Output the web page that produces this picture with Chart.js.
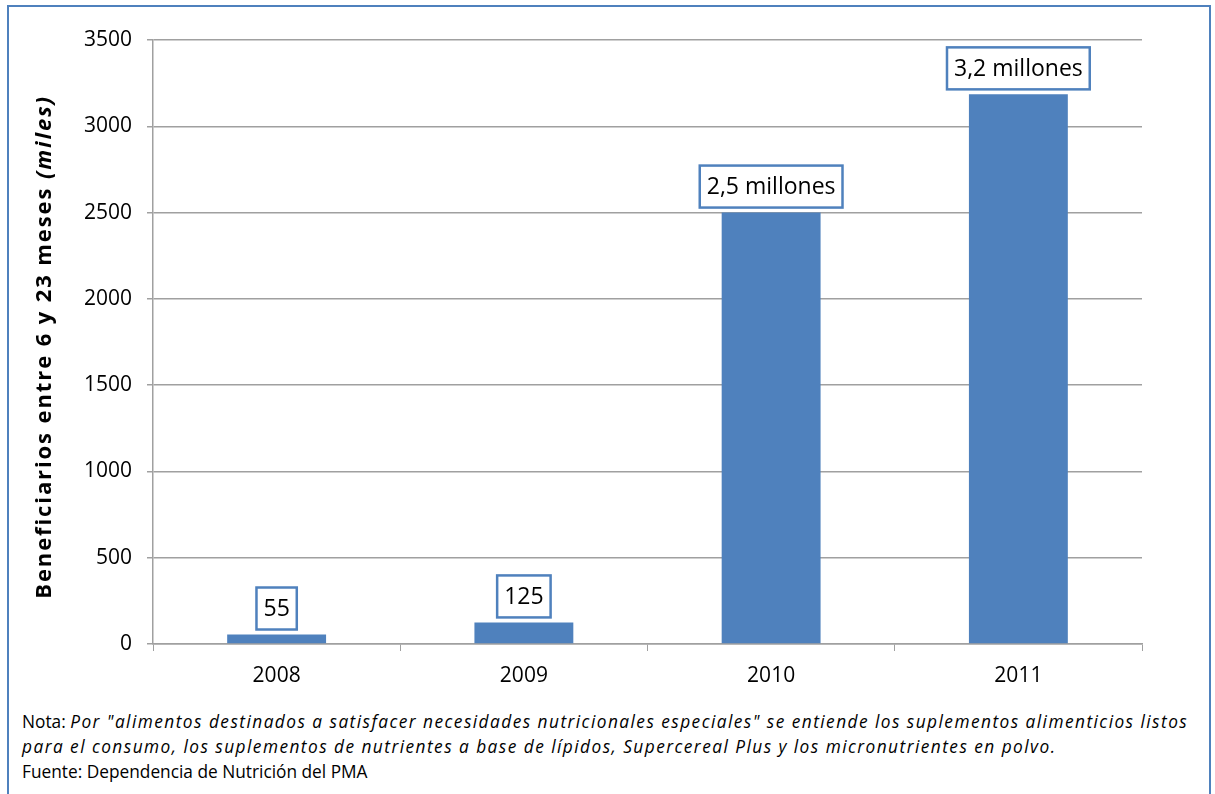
<!DOCTYPE html>
<html lang="es">
<head>
    <meta charset="UTF-8">
    <title>Beneficiarios entre 6 y 23 meses</title>
    <style>
        body {
            margin: 0;
            padding: 0;
            background: #fff;
            font-family: 'Open Sans', sans-serif;
            width: 1215px;
            height: 794px;
            overflow: hidden;
            position: relative;
        }

        #marco {
            position: absolute;
            left: 7px;
            top: 5px;
            width: 1204px;
            height: 800px;
            border: 2px solid #4f81bd;
            box-sizing: border-box;
        }

        #grafico {
            position: absolute;
            left: 0;
            top: 0;
        }

        #notas {
            position: absolute;
            left: 22px;
            top: 709px;
            font-size: 17.3px;
            line-height: 25px;
            color: #000;
            white-space: nowrap;
        }

        #notas i {
            letter-spacing: 1.45px;
        }
    </style>
</head>
<body>
    <div id="marco"></div>
    <canvas id="grafico" width="1215" height="700"></canvas>
    <div id="notas">
        Nota: <i>Por "alimentos destinados a satisfacer necesidades nutricionales especiales" se entiende los suplementos alimenticios listos</i><br>
        <i>para el consumo, los suplementos de nutrientes a base de lípidos, Supercereal Plus y los micronutrientes en polvo.</i><br>
        Fuente: Dependencia de Nutrición del PMA
    </div>

    <script src="https://cdn.jsdelivr.net/npm/chart.js"></script>
    <script>
        var anios = ['2008', '2009', '2010', '2011'];
        var beneficiarios = [55, 125, 2500, 3185];
        var etiquetas = ['55', '125', '2,5 millones', '3,2 millones'];

        var tituloEje = 'Beneficiarios entre 6 y 23 meses ';
        var tituloEjeCursiva = '(miles)';

        var azul = '#4f81bd';
        var gris = '#a0a0a0';

        // recuadros de las etiquetas encima de cada barra
        var pluginEtiquetas = {
            id: 'etiquetas',
            afterDatasetsDraw: function(chart) {
                var ctx = chart.ctx;
                var barras = chart.getDatasetMeta(0).data;
                ctx.save();
                ctx.font = '23px "Open Sans"';
                ctx.textAlign = 'center';
                ctx.textBaseline = 'middle';
                barras.forEach(function(barra, i) {
                    var texto = etiquetas[i];
                    var ancho = ctx.measureText(texto).width + 14;
                    var alto = 42;
                    var abajo = barra.y - 5;
                    ctx.fillStyle = '#fff';
                    ctx.fillRect(barra.x - ancho / 2, abajo - alto, ancho, alto);
                    ctx.strokeStyle = azul;
                    ctx.lineWidth = 2.5;
                    ctx.strokeRect(barra.x - ancho / 2, abajo - alto, ancho, alto);
                    ctx.fillStyle = '#000';
                    ctx.fillText(texto, barra.x, abajo - alto / 2 + 1);
                });
                ctx.restore();
            }
        };

        // titulo del eje Y con la parte "(miles)" en cursiva
        var pluginTitulo = {
            id: 'tituloEje',
            afterDraw: function(chart) {
                var ctx = chart.ctx;
                var area = chart.chartArea;
                ctx.save();
                ctx.translate(45, (area.top + area.bottom) / 2 + 5);
                ctx.rotate(-Math.PI / 2);
                ctx.fillStyle = '#000';
                ctx.textBaseline = 'middle';
                ctx.letterSpacing = '1.9px';
                var f1 = 'bold 22px "Open Sans"';
                var f2 = 'italic bold 22px "Open Sans"';
                ctx.font = f1;
                var w1 = ctx.measureText(tituloEje).width;
                ctx.font = f2;
                var w2 = ctx.measureText(tituloEjeCursiva).width;
                var x0 = -(w1 + w2) / 2;
                ctx.textAlign = 'left';
                ctx.font = f1;
                ctx.fillText(tituloEje, x0, 0);
                ctx.font = f2;
                ctx.fillText(tituloEjeCursiva, x0 + w1, 0);
                ctx.restore();
            }
        };

        var ctx = document.getElementById('grafico').getContext('2d');
        var grafico = new Chart(ctx, {
            type: 'bar',
            data: {
                labels: anios,
                datasets: [{
                    data: beneficiarios,
                    backgroundColor: azul,
                    borderWidth: 0,
                    categoryPercentage: 1,
                    barPercentage: 0.4
                }]
            },
            options: {
                responsive: false,
                animation: false,
                layout: {
                    padding: { top: 40, right: 73, bottom: 0, left: 0 }
                },
                plugins: {
                    legend: { display: false },
                    tooltip: { enabled: false }
                },
                scales: {
                    x: {
                        afterFit: function(eje) { eje.height = 56; },
                        grid: {
                            offset: true,
                            drawOnChartArea: false,
                            drawTicks: true,
                            tickLength: 7,
                            color: gris
                        },
                        border: { color: gris, width: 1.5 },
                        ticks: {
                            color: '#000',
                            padding: 12,
                            font: { family: 'Open Sans', size: 21 }
                        }
                    },
                    y: {
                        min: 0,
                        max: 3500,
                        afterFit: function(eje) { eje.width = 153; },
                        grid: {
                            color: gris,
                            lineWidth: 1.5,
                            drawTicks: true,
                            tickLength: 6
                        },
                        border: { color: gris, width: 1.5 },
                        ticks: {
                            stepSize: 500,
                            color: '#000',
                            padding: 15,
                            font: { family: 'Open Sans', size: 21 },
                            callback: function(valor) { return String(valor); }
                        }
                    }
                }
            },
            plugins: [pluginEtiquetas, pluginTitulo]
        });
    </script>
</body>
</html>
